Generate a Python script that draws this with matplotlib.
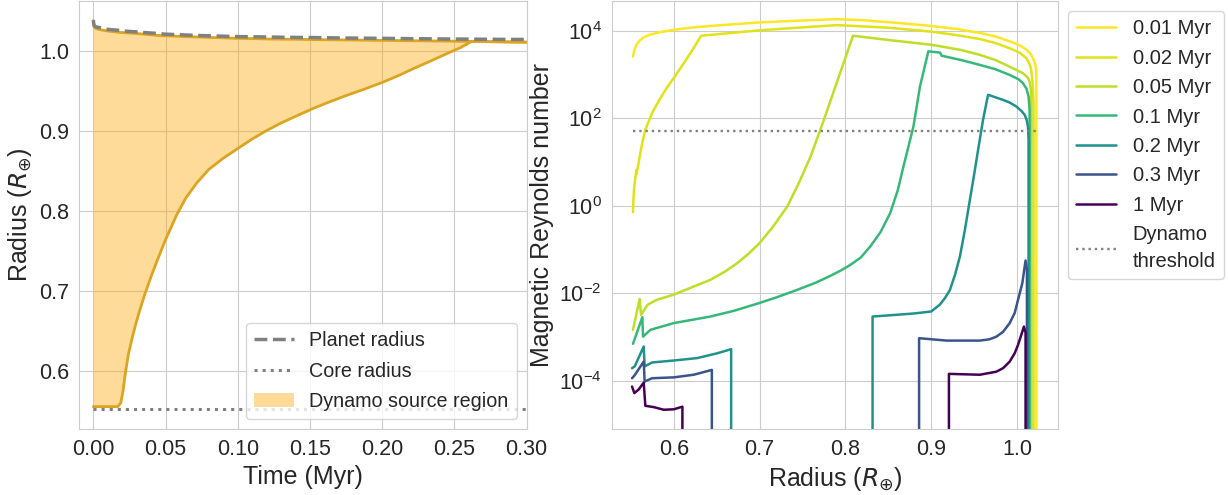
import numpy as np
import matplotlib
matplotlib.use('Agg')
import matplotlib.pyplot as plt
import matplotlib.cm as cm
import seaborn as sns

sns.set_style('whitegrid')
plt.rcParams['font.family'] = ['Liberation Sans', 'DejaVu Sans']

# ---- left panel: radius vs time (Myr) ----
time = [0.0, 0.0005, 0.002, 0.005, 0.01, 0.0169, 0.019, 0.0206, 0.022, 0.0243,
        0.027, 0.0293, 0.032, 0.0355, 0.04, 0.0442, 0.05, 0.0577, 0.064, 0.0716,
        0.08, 0.09, 0.1, 0.11, 0.12, 0.13, 0.1409, 0.152, 0.163, 0.1755,
        0.188, 0.2005, 0.211, 0.2217, 0.233, 0.2448, 0.254, 0.2621, 0.28, 0.3]
planet_radius = [1.0385, 1.032, 1.030, 1.029, 1.027, 1.026, 1.0255, 1.025, 1.0248, 1.0245,
                 1.0242, 1.024, 1.0235, 1.023, 1.0225, 1.022, 1.021, 1.0205, 1.020, 1.0195,
                 1.019, 1.0185, 1.018, 1.0178, 1.0175, 1.0172, 1.017, 1.0168, 1.0165, 1.0162,
                 1.016, 1.0158, 1.0156, 1.0154, 1.0152, 1.015, 1.0149, 1.0148, 1.0146, 1.0144]
dynamo_top = [1.038, 1.030, 1.028, 1.0265, 1.025, 1.0235, 1.0232, 1.023, 1.0228, 1.0225,
              1.0222, 1.022, 1.0215, 1.021, 1.0202, 1.0195, 1.019, 1.0185, 1.018, 1.0175,
              1.017, 1.0165, 1.0158, 1.0155, 1.015, 1.0148, 1.0146, 1.0143, 1.014, 1.0138,
              1.0135, 1.0133, 1.013, 1.0128, 1.0126, 1.0123, 1.0121, 1.012, 1.0115, 1.011]
dynamo_bottom = [0.5555, 0.5555, 0.5555, 0.5555, 0.5555, 0.5555, 0.560, 0.575, 0.595, 0.621,
                 0.642, 0.658, 0.675, 0.695, 0.718, 0.738, 0.764, 0.795, 0.816, 0.835,
                 0.852, 0.866, 0.878, 0.890, 0.9005, 0.910, 0.919, 0.928, 0.936, 0.9446,
                 0.9525, 0.961, 0.969, 0.978, 0.987, 0.9967, 1.004, 1.012, 1.0115, 1.011]
core_time = [0.0, 0.3]
core_radius = [0.5525, 0.5525]

# ---- right panel: magnetic Reynolds number (log10) vs radius ----
ages = [0.01, 0.02, 0.05, 0.1, 0.2, 0.3, 1]
age_labels = ['0.01 Myr', '0.02 Myr', '0.05 Myr', '0.1 Myr', '0.2 Myr', '0.3 Myr', '1 Myr']
age_colour_pos = [1.0, 0.95, 0.9, 0.67, 0.5, 0.26, 0.0]

r_001 = [0.5525, 0.554, 0.5565, 0.56, 0.565, 0.572, 0.5844, 0.6, 0.62, 0.6428,
         0.7, 0.75, 0.79, 0.8213, 0.86, 0.9, 0.93, 0.9567, 0.975, 0.9915,
         1.003, 1.0108, 1.0155, 1.0186, 1.021, 1.0224, 1.0226, 1.0226]
logrm_001 = [3.41, 3.55, 3.68, 3.77, 3.85, 3.91, 3.97, 4.02, 4.07, 4.11,
             4.19, 4.235, 4.265, 4.24, 4.18, 4.11, 4.04, 3.95, 3.87, 3.76,
             3.67, 3.57, 3.48, 3.375, 3.25, 3.11, 2.5, -8]

r_002 = [0.5525, 0.553, 0.554, 0.5555, 0.5564, 0.5564, 0.5579, 0.561, 0.564, 0.567,
         0.5747, 0.5844, 0.592, 0.6, 0.608, 0.6156, 0.624, 0.632, 0.7, 0.79,
         0.85, 0.9, 0.93, 0.9567, 0.975, 0.9915, 1.003, 1.0108, 1.0145, 1.0166,
         1.0186, 1.0193, 1.0193]
logrm_002 = [-0.145, 0.15, 0.44, 0.68, 0.82, 0.72, 0.85, 1.20, 1.50, 1.74,
             2.12, 2.46, 2.70, 2.92, 3.15, 3.375, 3.63, 3.886, 4.01, 4.13,
             4.07, 3.98, 3.90, 3.81, 3.72, 3.60, 3.50, 3.375, 3.25, 3.11,
             2.73, 2.3, -8]

r_005 = [0.5525, 0.5603, 0.5619, 0.5696, 0.58, 0.6, 0.62, 0.6428, 0.66, 0.6739,
         0.6875, 0.7, 0.716, 0.7323, 0.746, 0.7595, 0.775, 0.7945, 0.8089, 0.85,
         0.9, 0.9122, 0.935, 0.9567, 0.975, 0.9915, 1.007, 1.0125, 1.0147, 1.016,
         1.0166, 1.0166]
logrm_005 = [-2.834, -2.13, -2.49, -2.26, -2.15, -2.03, -1.87, -1.69, -1.50, -1.31,
             -1.09, -0.853, -0.47, -0.015, 0.53, 1.128, 1.966, 3.07, 3.886, 3.79,
             3.68, 3.64, 3.56, 3.45, 3.33, 3.18, 3.03, 2.93, 2.84, 2.70,
             2.58, -8]

r_01 = [0.5525, 0.5634, 0.5642, 0.5728, 0.6, 0.6428, 0.67, 0.7, 0.72, 0.744,
        0.765, 0.7826, 0.7945, 0.8058, 0.818, 0.829, 0.841, 0.8522, 0.861, 0.8677,
        0.8735, 0.8793, 0.887, 0.8967, 0.9105, 0.9122, 0.935, 0.9567, 0.975, 0.9915,
        1.002, 1.007, 1.011, 1.0135, 1.0147, 1.0147]
logrm_01 = [-3.154, -2.545, -2.99, -2.834, -2.68, -2.53, -2.40, -2.22, -2.09, -1.92,
            -1.76, -1.60, -1.48, -1.35, -1.18, -0.93, -0.60, -0.168, 0.35, 0.899,
            1.35, 1.81, 2.73, 3.53, 3.50, 3.43, 3.33, 3.22, 3.12, 2.99,
            2.89, 2.80, 2.68, 2.50, 2.19, -8]

r_02 = [0.5514, 0.5545, 0.565, 0.5661, 0.5747, 0.6, 0.6272, 0.6506, 0.6669, 0.6669,
        0.8317, 0.8317, 0.86, 0.88, 0.9, 0.910, 0.916, 0.9219, 0.9277, 0.9335,
        0.9393, 0.9451, 0.9497, 0.9547, 0.9605, 0.9663, 0.9838, 0.9915, 0.9992, 1.005,
        1.0089, 1.0112, 1.0128, 1.0135, 1.0135]
logrm_02 = [-3.71, -3.67, -3.215, -3.67, -3.58, -3.535, -3.48, -3.37, -3.276, -8,
            -8, -2.53, -2.49, -2.46, -2.415, -2.26, -2.11, -1.92, -1.58, -1.158,
            -0.55, 0.137, 0.67, 1.28, 1.97, 2.537, 2.42, 2.36, 2.27, 2.17,
            2.08, 1.97, 1.81, 1.51, -8]

r_03 = [0.5514, 0.5545, 0.565, 0.5661, 0.5747, 0.6, 0.6233, 0.6444, 0.6444,
        0.8859, 0.8859, 0.918, 0.9567, 0.968, 0.976, 0.9838, 0.9915, 0.9973, 1.0012,
        1.0062, 1.010, 1.0116, 1.0116]
logrm_03 = [-3.94, -3.87, -3.56, -4.015, -3.94, -3.92, -3.86, -3.75, -8,
            -8, -3.025, -3.08, -3.08, -3.05, -2.99, -2.88, -2.68, -2.45, -2.15,
            -1.77, -1.25, -1.45, -8]

r_1 = [0.5514, 0.5541, 0.559, 0.565, 0.5669, 0.5767, 0.5883, 0.6, 0.6101, 0.6101,
       0.9207, 0.9207, 0.9567, 0.976, 0.9838, 0.9915, 0.9973, 1.0012, 1.005, 1.0081,
       1.010, 1.010]
logrm_1 = [-4.13, -4.28, -4.2, -4.04, -4.57, -4.60, -4.66, -4.65, -4.59, -8,
           -8, -3.84, -3.86, -3.79, -3.71, -3.56, -3.37, -3.18, -2.95, -2.76,
           -2.9, -8]

radii = [r_001, r_002, r_005, r_01, r_02, r_03, r_1]
logrms = [logrm_001, logrm_002, logrm_005, logrm_01, logrm_02, logrm_03, logrm_1]

threshold_r = [0.5525, 1.0232]
threshold_rm = [50, 50]

colormap = cm.viridis

fig = plt.figure(figsize=(12.28, 4.95), dpi=100)
ax1 = fig.add_axes([79.3/1228, 66/495, 447.2/1228, 428/495])
ax2 = fig.add_axes([611.7/1228, 66/495, 446.3/1228, 428/495])

# left panel
ax1.plot(time, planet_radius, color='grey', ls='--', lw=2.5, label='Planet radius', zorder=4)
ax1.plot(core_time, core_radius, color='grey', ls=':', lw=2.2, label='Core radius', zorder=4)
ax1.fill_between(time, dynamo_bottom, dynamo_top, color='orange', alpha=0.4,
                 lw=0, label='Dynamo source region', zorder=2)
ax1.plot(time, dynamo_top, color='goldenrod', lw=2, zorder=3)
ax1.plot(time, dynamo_bottom, color='goldenrod', lw=2, zorder=3)
ax1.set_xlim(-0.0097, 0.30)
ax1.set_ylim(0.5275, 1.0625)
ax1.set_xticks([0.0, 0.05, 0.10, 0.15, 0.20, 0.25, 0.30])
ax1.set_yticks([0.6, 0.7, 0.8, 0.9, 1.0])
ax1.set_xlabel('Time (Myr)', fontsize=18)
ax1.set_ylabel(r'Radius ($R_{\oplus}$)', fontsize=18)
ax1.tick_params(labelsize=15.5)
ax1.legend(loc='lower right', fontsize=14.2, labelspacing=0.58)

# right panel
for j in range(len(ages)):
    ax2.plot(radii[j], 10**np.array(logrms[j]), color=colormap(age_colour_pos[j]),
             lw=1.8, label=age_labels[j])
ax2.plot(threshold_r, threshold_rm, color='grey', ls=':', lw=1.7, label='Dynamo\nthreshold')
ax2.set_yscale('log')
ax2.set_xlim(0.5277, 1.0478)
ax2.set_ylim(10**-5.1, 10**4.68)
ax2.set_yticks([1e-4, 1e-2, 1e0, 1e2, 1e4])
ax2.yaxis.set_minor_locator(matplotlib.ticker.NullLocator())
ax2.set_xticks([0.6, 0.7, 0.8, 0.9, 1.0])
ax2.set_xlabel(r'Radius ($R_{\oplus}$)', fontsize=18)
ax2.set_ylabel('Magnetic Reynolds number', fontsize=18)
ax2.tick_params(labelsize=15.5)
leg = ax2.legend(loc='upper left', bbox_to_anchor=(1.0, 1.0), fontsize=14.5, labelspacing=0.52)
leg.get_texts()[-1].set_linespacing(1.5)

plt.savefig('out.png', dpi=100)
